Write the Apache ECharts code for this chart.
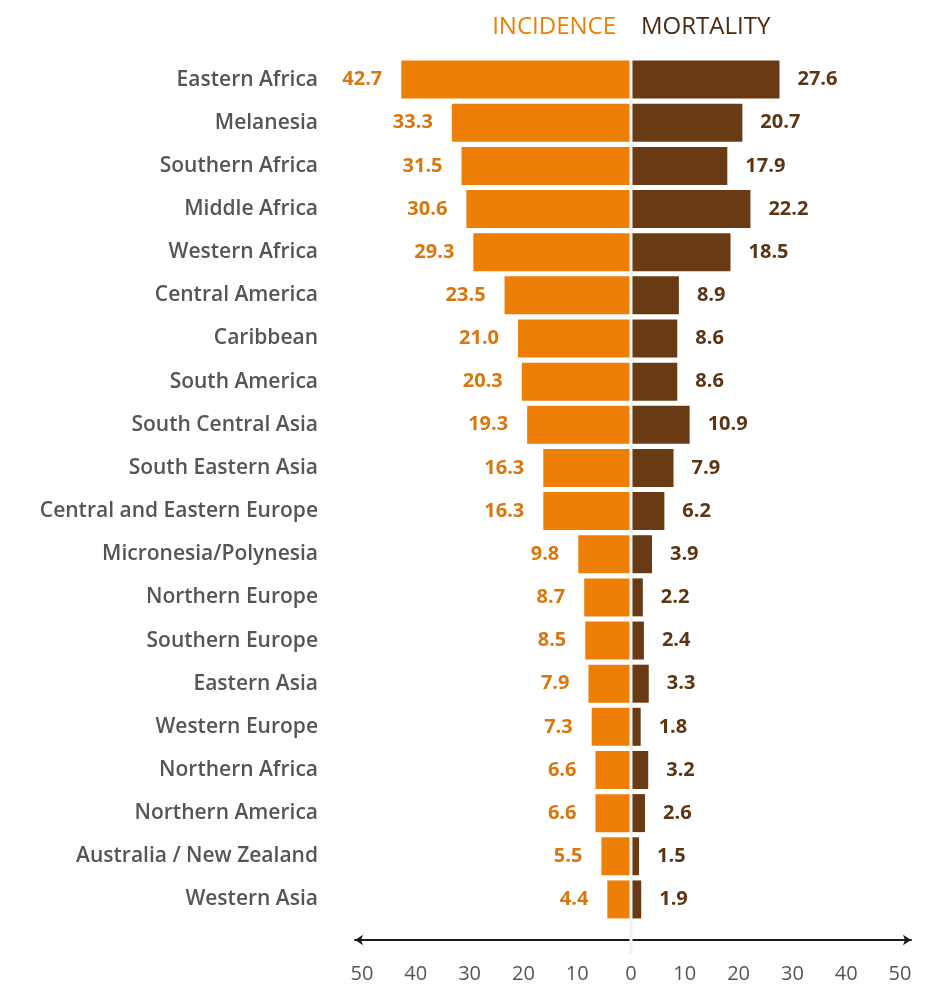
<!DOCTYPE html>
<html>
<head>
<meta charset="utf-8">
<script src="https://cdn.jsdelivr.net/npm/echarts@6/dist/echarts.min.js"></script>
<style>
html,body{margin:0;padding:0;background:#fff;}
#chart{width:950px;height:1000px;}
</style>
</head>
<body>
<div id="chart"></div>
<script>
const categories = ["Eastern Africa","Melanesia","Southern Africa","Middle Africa","Western Africa","Central America","Caribbean","South America","South Central Asia","South Eastern Asia","Central and Eastern Europe","Micronesia/Polynesia","Northern Europe","Southern Europe","Eastern Asia","Western Europe","Northern Africa","Northern America","Australia / New Zealand","Western Asia"];
const incidence = [42.7,33.3,31.5,30.6,29.3,23.5,21.0,20.3,19.3,16.3,16.3,9.8,8.7,8.5,7.9,7.3,6.6,6.6,5.5,4.4];
const mortality = [27.6,20.7,17.9,22.2,18.5,8.9,8.6,8.6,10.9,7.9,6.2,3.9,2.2,2.4,3.3,1.8,3.2,2.6,1.5,1.9];
const seriesNames = ["INCIDENCE","MORTALITY"];
const tickMin = -50, tickMax = 50, tickStep = 10;

const ORANGE = '#EE7F06', BROWN = '#693B15';
const FONT = '"Open Sans", sans-serif';

const chart = echarts.init(document.getElementById('chart'));
const option = {
  animation: false,
  backgroundColor: '#fff',
  grid: [
    {left: 362, right: 50, top: 58, bottom: 79, containLabel: false},
    {left: 355, right: 39, top: 58, bottom: 79, containLabel: false}
  ],
  xAxis: [{
    type: 'value', gridIndex: 0, min: tickMin, max: tickMax, interval: tickStep,
    axisLine: {show: false}, axisTick: {show: false}, splitLine: {show: false},
    axisLabel: {margin: 43, color: '#555', fontSize: 20, fontFamily: FONT,
      formatter: v => String(Math.abs(v))}
  },{
    type: 'value', gridIndex: 1, min: -1, max: 1, position: 'bottom', offset: 19,
    axisLine: {show: true, onZero: false, symbol: ['arrow','arrow'], symbolSize: [8, 8],
      lineStyle: {color: '#1a1a1a', width: 2}},
    axisTick: {show: false}, axisLabel: {show: false}, splitLine: {show: false}
  }],
  yAxis: [{
    type: 'category', gridIndex: 0, data: categories, inverse: true,
    axisLine: {show: false}, axisTick: {show: false},
    axisLabel: {margin: 44, color: '#555', fontSize: 21, fontWeight: 600, fontFamily: FONT}
  },{
    type: 'value', gridIndex: 1, show: false
  }],
  series: [{
    name: seriesNames[0], type: 'bar', xAxisIndex: 0, yAxisIndex: 0,
    data: incidence.map(v => -v), barWidth: 38, barGap: '-100%',
    itemStyle: {color: ORANGE},
    label: {show: true, position: 'left', distance: 19, color: '#D9760C',
      fontSize: 20, fontWeight: 'bold', fontFamily: FONT,
      formatter: p => Math.abs(p.value).toFixed(1)}
  },{
    name: seriesNames[1], type: 'bar', xAxisIndex: 0, yAxisIndex: 0,
    data: mortality, barWidth: 38, barGap: '-100%',
    itemStyle: {color: BROWN},
    label: {show: true, position: 'right', distance: 18, color: '#5C3514',
      fontSize: 20, fontWeight: 'bold', fontFamily: FONT,
      formatter: p => p.value.toFixed(1)}
  }]
};
chart.setOption(option);

const x0 = chart.convertToPixel({xAxisIndex: 0}, 0);
const yTop = chart.convertToPixel({yAxisIndex: 0}, categories[0]) - 20;
chart.setOption({
  graphic: [
    {type: 'rect', z: 100, shape: {x: x0 - 1.5, y: yTop, width: 3, height: 954 - yTop},
      style: {fill: '#f2f2f2'}},
    {type: 'text', z: 100, x: x0 - 15, y: 27,
      style: {text: seriesNames[0], fill: ORANGE, font: '24px "Open Sans", sans-serif',
        align: 'right', verticalAlign: 'middle'}},
    {type: 'text', z: 100, x: x0 + 10, y: 27,
      style: {text: seriesNames[1], fill: '#4A2A10', font: '24px "Open Sans", sans-serif',
        align: 'left', verticalAlign: 'middle'}}
  ]
});
</script>
</body>
</html>
